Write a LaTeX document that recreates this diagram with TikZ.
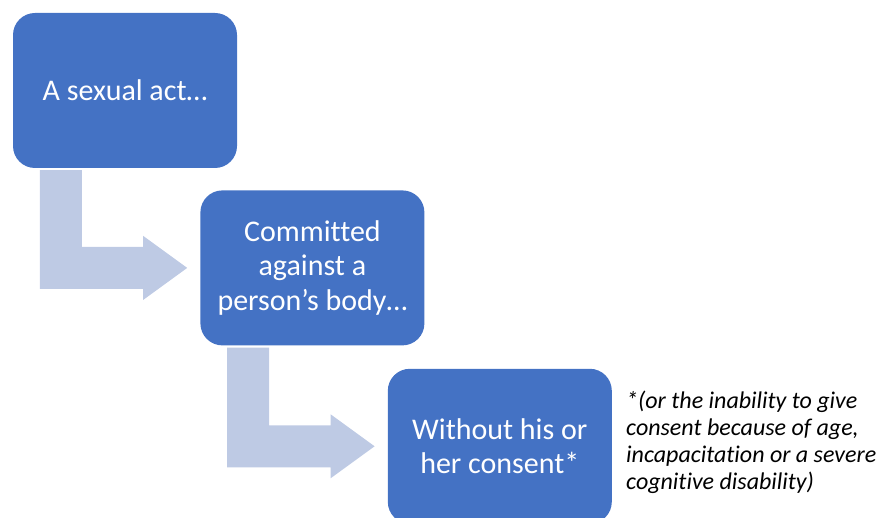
\documentclass[tikz,border=0pt]{standalone}
\usepackage{fontspec}
\setmainfont{Carlito}[Ligatures=NoCommon]
\usetikzlibrary{positioning, calc}
\definecolor{BoxBlue}{HTML}{4472C4}
\definecolor{FlowGrey}{RGB}{190,202,228}
% bent arrow from under one box to the left side of the next
\newcommand{\BentArrow}[2]{%
  \fill[bentflow] let \p1 = ([xshift=27pt, yshift=-2pt]#1.south west),
                      \p2 = ([xshift=-13pt]#2.west) in
    (\x1, \y1) -- (\x1+42pt, \y1) -- (\x1+42pt, \y2+21pt)
    -- (\x2-44pt, \y2+21pt) -- (\x2-44pt, \y2+32pt) -- (\x2, \y2)
    -- (\x2-44pt, \y2-32pt) -- (\x2-44pt, \y2-21pt) -- (\x1, \y2-21pt) -- cycle;}

\begin{document}
\begin{tikzpicture}[
      font = \fontsize{30}{34.5}\selectfont,
      stepbox/.style={
        fill = BoxBlue,
        text = white,
        rounded corners = 22pt,
        minimum width = 224pt,
        minimum height = 155pt,
        align = center,
        inner sep = 0pt,
      },
      bentflow/.style={fill = FlowGrey},
    ]
    \useasboundingbox (0,0) rectangle (891pt,-518pt);
    \node[stepbox] (act) at (125pt,-90.5pt) {A sexual act…};
    \node[stepbox, below right = 22pt and -37pt of act] (body)
      {Committed\\against a\\person’s body…};
    \node[stepbox, below right = 23pt and -37pt of body] (consent)
      {Without his or\\her consent*};
    \node[right = 14pt of consent, yshift = 4pt, align = left, inner sep = 0pt,
      font = \fontsize{24}{26.7}\selectfont\itshape] (note)
      {*(or the inability to give\\consent because of age,\\incapacitation or a severe\\cognitive disability)};
    \BentArrow{act}{body}
    \BentArrow{body}{consent}
  \end{tikzpicture}
\end{document}
